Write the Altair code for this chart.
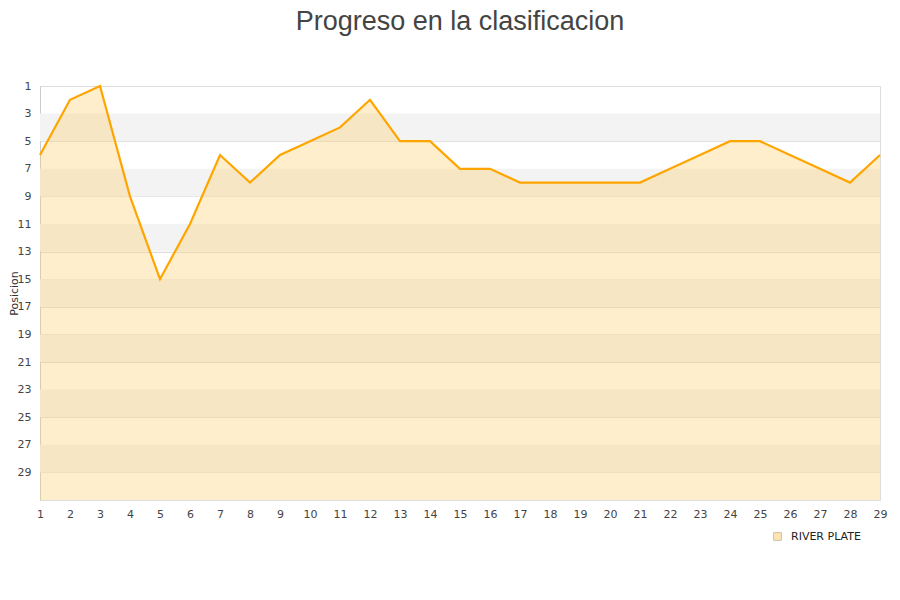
import altair as alt
import pandas as pd

jornadas = list(range(1, 30))
posiciones = [6, 2, 1, 9, 15, 11, 6, 8, 6, 5, 4, 2, 5, 5, 7, 7, 8, 8, 8, 8, 8, 7, 6, 5, 5, 6, 7, 8, 6]
equipo = "RIVER PLATE"
band_starts = [3, 7, 11, 15, 19, 23, 27]
y_ticks = list(range(1, 30, 2))

df = pd.DataFrame({"jornada": jornadas, "pos": posiciones, "equipo": equipo})
bands = pd.DataFrame({"y0": band_starts, "y1": [b + 2 for b in band_starts]})

yscale = alt.Scale(domain=[1, 31], reverse=True, nice=False, zero=False)
xscale = alt.Scale(domain=[1, 29], nice=False, zero=False)

xaxis = alt.Axis(values=jornadas, title=None, grid=False, ticks=False,
                 domain=False, labelPadding=8, labelFontSize=11,
                 labelColor="#444", labelFont="DejaVu Sans", format="d",
                 labelOverlap=False, labelFlush=False)
yaxis = alt.Axis(values=y_ticks, title="Posicion", grid=True, gridColor="#dddddd",
                 ticks=False, domain=True, domainColor="#cccccc", labelPadding=9,
                 labelFontSize=11, labelColor="#444", labelFont="DejaVu Sans",
                 titleFont="DejaVu Sans", titleFontSize=11, titleFontWeight="normal",
                 titleColor="#333", titleX=-26, titleY=207, titleAlign="center",
                 titleBaseline="middle", format="d",
                 labelOverlap=False, labelFlush=False)

band_layer = alt.Chart(bands).mark_rect(color="#f3f3f3").encode(
    y=alt.Y("y0:Q", scale=yscale, axis=yaxis),
    y2="y1:Q",
    x=alt.value(0),
    x2=alt.value(840),
)

area = alt.Chart(df).mark_area(opacity=0.34, line=False).encode(
    x=alt.X("jornada:Q", scale=xscale, axis=xaxis),
    y=alt.Y("pos:Q", scale=yscale, axis=yaxis),
    y2=alt.datum(31),
    fill=alt.Fill("equipo:N",
                  scale=alt.Scale(domain=[equipo], range=["#ffcc66"]),
                  legend=alt.Legend(title=None, orient="none", legendX=732, legendY=445,
                                    symbolType="square", symbolSize=60,
                                    symbolStrokeColor="#a08050", symbolStrokeWidth=1,
                                    symbolOpacity=0.5, symbolFillColor="#ffcc66",
                                    labelFont="DejaVu Sans", labelFontSize=11,
                                    labelColor="#222", labelOffset=8)),
)

line = alt.Chart(df).mark_line(color="#ffa500", strokeWidth=2.2).encode(
    x=alt.X("jornada:Q", scale=xscale, axis=xaxis),
    y=alt.Y("pos:Q", scale=yscale, axis=yaxis),
)

chart = alt.layer(band_layer, area, line).properties(
    width=840,
    height=414,
    padding={"left": 32, "top": 78, "right": 12, "bottom": 80},
    autosize=alt.AutoSizeParams(type="none"),
    title=alt.TitleParams("Progreso en la clasificacion", font="Liberation Sans",
                          fontSize=27, fontWeight="normal", color="#444",
                          anchor="middle", offset=44),
).configure_view(stroke="#dddddd", strokeWidth=1).configure_axis(labelOverlap=False)

chart.save("out.html", embed_options={"renderer": "svg", "actions": False})
